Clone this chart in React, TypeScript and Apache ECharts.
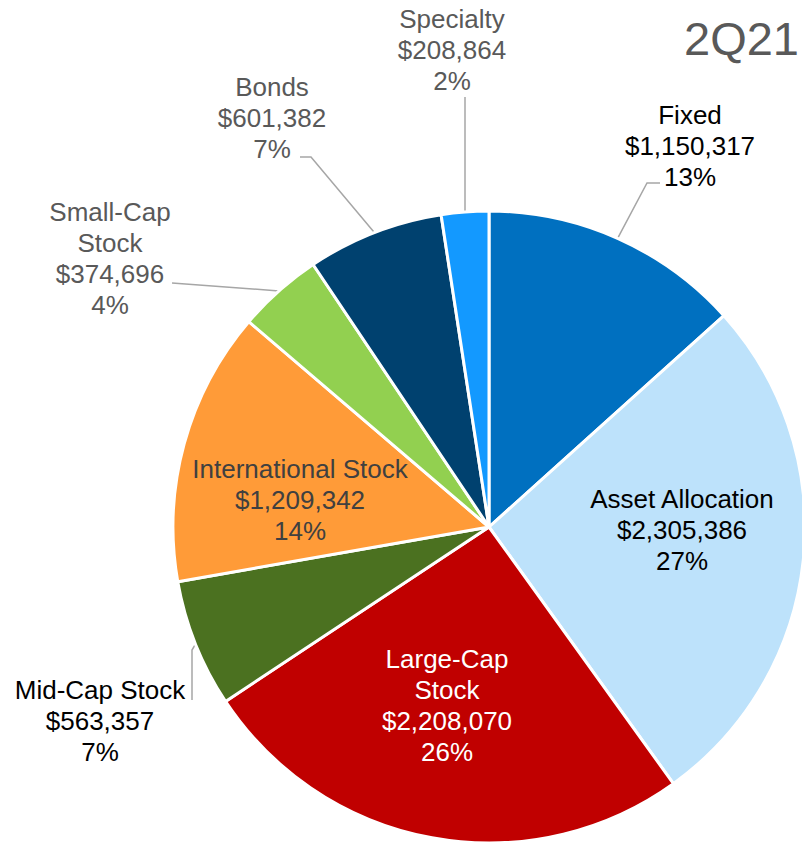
import React, { useEffect, useRef } from "react";
import * as echarts from "echarts";

const categories = [
  "Fixed",
  "Asset Allocation",
  "Large-Cap\nStock",
  "Mid-Cap Stock",
  "International Stock",
  "Small-Cap\nStock",
  "Bonds",
  "Specialty",
];
const values = [1150317, 2305386, 2208070, 563357, 1209342, 374696, 601382, 208864];
const colors = ["#0070C0", "#BDE2FB", "#C00000", "#4B7120", "#FF9B38", "#92D050", "#00416F", "#1399FF"];
const labelColors = ["#000000", "#000000", "#FFFFFF", "#000000", "#404040", "#595959", "#595959", "#595959"];
const insideLabels = [false, true, true, false, true, false, false, false];
const title = "2Q21";

// label block centres and leader-line bends (px)
const LAYOUT: Record<number, { x: number; y: number; line?: number[][] }> = {
  0: { x: 690, y: 146, line: [[647, 183], [660, 183]] },
  1: { x: 682, y: 530 },
  2: { x: 447, y: 705 },
  3: { x: 100, y: 721, line: [[192, 650], [192, 700]] },
  4: { x: 300, y: 500 },
  5: { x: 110, y: 258, line: [[172, 283]] },
  6: { x: 272, y: 118, line: [[311, 157], [300, 157]] },
  7: { x: 452, y: 50, line: [[465, 97]] },
};

export default function App() {
  const ref = useRef<HTMLDivElement>(null);
  useEffect(() => {
    if (!ref.current) return;
    const chart = echarts.init(ref.current, null, { renderer: "svg" });
    const data = categories.map((name, i) => ({
      name,
      value: values[i],
      itemStyle: { color: colors[i] },
      label: {
        position: insideLabels[i] ? "inside" : "outside",
        color: labelColors[i],
      },
      labelLine: { show: !insideLabels[i] },
    }));
    chart.setOption({
      animation: false,
      backgroundColor: "#FFFFFF",
      graphic: [
        {
          type: "text",
          right: 3,
          top: 15,
          style: {
            text: title,
            fontSize: 47,
            fontFamily: "Liberation Sans, Arial, sans-serif",
            fill: "#595959",
          },
        },
      ],
      series: [
        {
          type: "pie",
          center: [489, 527],
          radius: [0, 316],
          startAngle: 90,
          clockwise: true,
          avoidLabelOverlap: false,
          itemStyle: { borderColor: "#FFFFFF", borderWidth: 3 },
          label: {
            show: true,
            fontSize: 26,
            lineHeight: 31,
            fontFamily: "Liberation Sans, Arial, sans-serif",
            formatter: (p: any) =>
              `${p.name}\n$${Number(p.value).toLocaleString("en-US")}\n${Math.round(p.percent)}%`,
          },
          labelLine: {
            length: 20,
            length2: 10,
            lineStyle: { color: "#A6A6A6", width: 1.5 },
          },
          labelLayout: (params: any) => {
            const cfg = LAYOUT[params.dataIndex];
            if (!cfg) return {};
            const out: any = { x: cfg.x, y: cfg.y, align: "center", verticalAlign: "middle" };
            if (cfg.line && params.labelLinePoints && params.labelLinePoints[0]) {
              out.labelLinePoints = [params.labelLinePoints[0], ...cfg.line];
            }
            return out;
          },
          data,
        },
      ],
    });
    return () => chart.dispose();
  }, []);
  return (
    <div
      ref={ref}
      style={{ position: "fixed", left: 0, top: 0, width: 802, height: 848 }}
    />
  );
}
